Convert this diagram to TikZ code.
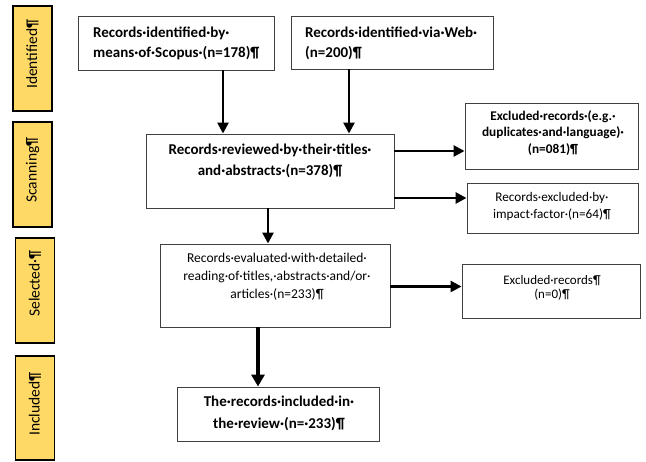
\documentclass[tikz,border=0pt]{standalone}
\usepackage{fontspec}
\setmainfont{Carlito}
\usetikzlibrary{arrows.meta,positioning}

\definecolor{myyellow}{RGB}{255,217,102}
\definecolor{mygrey}{RGB}{64,64,64}

\begin{document}
\begin{tikzpicture}[x=1pt,y=-1pt,
            arrow/.style={line width=2.6pt,-{Triangle[length=11pt,width=11pt]},black},
            big arrow/.style={line width=4pt,-{Triangle[length=12pt,width=13pt]},black},
            stage/.style={draw=black,line width=1.8pt,fill=myyellow,rotate=90,inner sep=0pt,
                          minimum width=105pt,minimum height=39pt,font=\fontsize{15.5}{18}\selectfont},
            record/.style={draw=mygrey,line width=0.9pt,inner sep=0pt},
            record text/.style={inner sep=0pt,align=center,font=\fontsize{15}{20}\selectfont\bfseries},
            plain text/.style={inner sep=0pt,align=center,font=\fontsize{13.5}{18}\selectfont}
         ]
      \useasboundingbox (0,0) rectangle (646,462);

      % stages
      \node[stage] (identified) at (32.5,58.5) {\hspace*{9pt}Identified¶};
      \node[stage] (scanning) at (32.5,174.5) {\hspace*{9pt}Scanning¶};
      \node[stage] (selected) at (35,290.5) {\hspace*{14pt}Selected·¶};
      \node[stage,minimum width=104pt] (included) at (35,408) {\hspace*{8pt}Included¶};

      % boxes
      \node[record,minimum width=196pt,minimum height=54pt] (scopus) at (176,43) {};
      \node[record,minimum width=202pt,minimum height=53pt] (web) at (392,42.5) {};
      \node[record,minimum width=248pt,minimum height=74pt] (review) at (270,171) {};
      \node[record,minimum width=173pt,minimum height=66pt] (duplicates) at (551.5,136) {};
      \node[record,minimum width=171pt,minimum height=50pt] (impact) at (552.5,208) {};
      \node[record,minimum width=230pt,minimum height=83pt] (evaluated) at (275,285.5) {};
      \node[record,minimum width=178pt,minimum height=54pt] (excluded) at (551,291) {};
      \node[record,minimum width=202pt,minimum height=54pt] (final) at (278,414) {};

      % texts
      \node[record text,anchor=west,align=left] (scopus text) at (93,43)
         {Records·identified·by·\\means·of·Scopus·(n=178)¶};
      \node[record text,anchor=west,align=left] (web text) at (305,43)
         {Records·identified·via·Web·\\(n=200)¶};
      \node[record text,font=\fontsize{15}{21}\selectfont\bfseries] (review text) at (270,161)
         {Records·reviewed·by·their·titles·\\and·abstracts·(n=378)¶};
      \node[record text,font=\fontsize{13.3}{16.5}\selectfont\bfseries] (duplicates text) at (553,133)
         {Excluded·records·(e.g.·\\duplicates·and·language)·\\(n=081)¶};
      \node[plain text,font=\fontsize{13.2}{17}\selectfont] (impact text) at (552,206)
         {Records·excluded·by·\\impact·factor·(n=64)¶};
      \node[plain text] (evaluated text) at (277,277)
         {Records·evaluated·with·detailed·\\reading·of·titles,·abstracts·and/or·\\articles·(n=233)¶};
      \node[plain text,font=\fontsize{13}{14.5}\selectfont] (excluded text) at (552,288)
         {Excluded·records¶\\(n=0)¶};
      \node[record text,font=\fontsize{15}{22}\selectfont\bfseries] (final text) at (279,413)
         {The·records·included·in·\\the·review·(n=·233)¶};

      % arrows
      \draw[arrow] ([xshift=47pt]scopus.south) -- ([xshift=47pt]scopus.south |- review.north);
      \draw[arrow] ([xshift=-43pt]web.south) -- ([xshift=-43pt]web.south |- review.north);
      \draw[arrow] ([yshift=20pt]review.east) -- ([yshift=20pt]review.east -| duplicates.west);
      \draw[arrow] ([yshift=-27pt]review.east) -- ([yshift=-27pt]review.east -| impact.west);
      \draw[arrow] ([xshift=-2pt]review.south) -- ([xshift=-2pt]review.south |- evaluated.north);
      \draw[arrow] ([yshift=-1pt]evaluated.east) -- ([yshift=-1pt]evaluated.east -| excluded.west);
      \draw[big arrow] ([xshift=-17pt]evaluated.south) -- ([xshift=-17pt]evaluated.south |- final.north);

   \end{tikzpicture}
\end{document}
